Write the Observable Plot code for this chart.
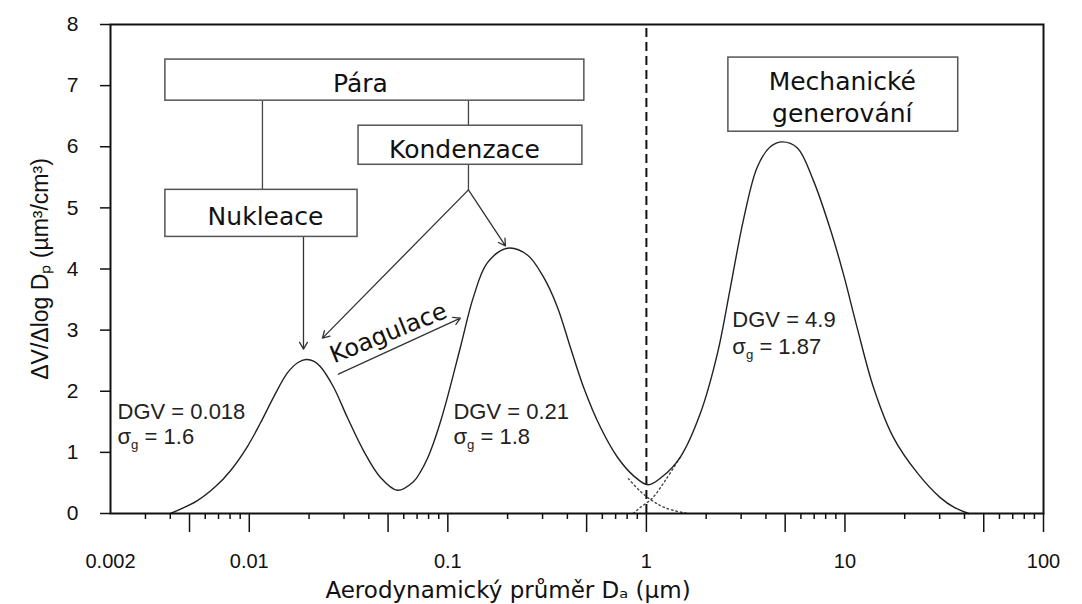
<!DOCTYPE html>
<html><head><meta charset="utf-8">
<script src="https://cdn.jsdelivr.net/npm/d3@7"></script>
<script src="https://cdn.jsdelivr.net/npm/@observablehq/plot@0.6"></script>
<style>body{margin:0;background:#fff}</style>
</head><body><div id="chart"></div>
<script>
// Total volume distribution
const sizeUm = [0.00401,0.00548,0.00676,0.00804,0.0098,0.01138,0.01324,0.01556,0.0176,0.0193,0.0212,0.02284,0.02655,0.0312,0.0376,0.0458,0.0557,0.0671,0.0728,0.0789,0.0846,0.0918,0.0995,0.1157,0.1345,0.158,0.1995,0.2516,0.303,0.356,0.414,0.482,0.587,0.715,0.860,1.02,1.2,1.48,1.87,2.28,2.65,3.08,3.62,4.21,4.84,5.76,6.93,8.44,9.82,11.5,13.9,17.5,23.2,30.2,35.5,42];
const volume = [0,0.21,0.44,0.70,1.10,1.48,1.90,2.30,2.47,2.52,2.49,2.40,2.07,1.57,1.03,0.59,0.38,0.52,0.68,0.90,1.15,1.50,1.90,2.72,3.54,4.10,4.34,4.23,3.87,3.38,2.72,2.07,1.41,0.92,0.62,0.47,0.60,0.92,1.64,2.62,3.70,4.80,5.67,6.00,6.08,5.98,5.45,4.65,3.92,3.05,2.07,1.25,0.66,0.26,0.10,0];
// Individual mode tails near 1 µm (dotted)
const accumTailSize = [0.812,0.933,1.07,1.25,1.61];
const accumTailVol = [0.57,0.36,0.21,0.09,0];
const coarseTailSize = [0.86,0.933,1.07,1.25,1.48];
const coarseTailVol = [0,0.1,0.25,0.55,0.92];
// Axis ticks
const yTicks = [0,1,2,3,4,5,6,7,8];
const xLabelTicks = [0.002,0.01,0.1,1,10,100];
const xLabelText = ["0.002","0.01","0.1","1","10","100"];
const xLongTicks = [0.005,0.01,0.05,0.1,0.5,1,5,10,50,100];
const xShortTicks = [0.003,0.004,0.006,0.007,0.008,0.009,0.02,0.03,0.04,0.06,0.07,0.08,0.09,0.2,0.3,0.4,0.6,0.7,0.8,0.9,2,3,4,6,7,8,9,20,30,40,60,70,80,90];
// Mode annotations
const dgvText = ["DGV = 0.018","DGV = 0.21","DGV = 4.9"];
const sigmaText = ["σg = 1.6","σg = 1.8","σg = 1.87"];
const annX = [0.00217,0.1067,2.71];
const dgvY = [1.66,1.66,3.16];
const sigmaY = [1.25,1.25,2.72];
// Diagram boxes
const boxLabel = ["Pára","Kondenzace","Nukleace","Mechanické\ngenerování"];
const boxX1 = [0.00378,0.0355,0.00378,2.588];
const boxX2 = [0.487,0.476,0.0351,37.2];
const boxY1 = [6.754,5.705,4.525,6.246];
const boxY2 = [7.426,6.344,5.295,7.459];
const boxTextX = [0.0363,0.1213,0.01207,9.70];
const boxTextY = [7.07,5.98,4.885,6.84];
// Connectors
const linkX1 = [0.01165,0.127,0.127];
const linkY1 = [6.754,6.754,5.705];
const linkX2 = [0.01165,0.127,0.127];
const linkY2 = [5.295,6.344,5.295];
const arrowX1 = [0.127,0.127,0.01875,0.0281];
const arrowY1 = [5.295,5.295,4.525,2.279];
const arrowX2 = [0.02337,0.195,0.01875,0.1157];
const arrowY2 = [2.869,4.377,2.689,3.197];

const curve = sizeUm.map((x,i)=>({x, y: volume[i]}));
const accTail = accumTailSize.map((x,i)=>({x, y: accumTailVol[i]}));
const coaTail = coarseTailSize.map((x,i)=>({x, y: coarseTailVol[i]}));
const ann = dgvText.map((t,i)=>({x: annX[i], y1: dgvY[i], y2: sigmaY[i], t, s: sigmaText[i]}));
const boxes = boxLabel.map((t,i)=>({t, x1: boxX1[i], x2: boxX2[i], y1: boxY1[i], y2: boxY2[i], tx: boxTextX[i], ty: boxTextY[i]}));
const links = linkX1.map((x,i)=>({x1:x, y1: linkY1[i], x2: linkX2[i], y2: linkY2[i]}));
const arrows = arrowX1.map((x,i)=>({x1:x, y1: arrowY1[i], x2: arrowX2[i], y2: arrowY2[i]}));

const sans = "Liberation Sans, Arial, sans-serif";
const dv = "DejaVu Sans, Verdana, sans-serif";

const chart = Plot.plot({
  width: 1082, height: 604,
  marginLeft: 110, marginRight: 39, marginTop: 24, marginBottom: 91,
  style: {fontFamily: sans, background: "#fff", color: "#111"},
  x: {type: "log", domain: [0.002, 100]},
  y: {domain: [0, 8]},
  marks: [
    Plot.axisY({ticks: yTicks, tickSize: 10, tickPadding: 22, fontSize: 21, label: null, strokeWidth: 1.5, tickFormat: d => String(d)}),
    Plot.axisX(xShortTicks, {tickSize: 6, tickFormat: () => "", label: null, strokeWidth: 1.5}),
    Plot.axisX(xLongTicks, {tickSize: 19, tickFormat: () => "", label: null, strokeWidth: 1.5}),
    Plot.axisX(xLabelTicks, {tickSize: 0, tickPadding: 40, fontSize: 20, label: null, tickFormat: d => xLabelText[xLabelTicks.indexOf(d)]}),
    Plot.ruleX([1], {y1: 0, y2: 8, stroke: "#111", strokeWidth: 2, strokeDasharray: "9,5"}),
    Plot.line(accTail, {x: "x", y: "y", stroke: "#444", strokeWidth: 1.4, strokeDasharray: "1.5,3", curve: "catmull-rom"}),
    Plot.line(coaTail, {x: "x", y: "y", stroke: "#444", strokeWidth: 1.4, strokeDasharray: "1.5,3", curve: "catmull-rom"}),
    Plot.line(curve, {x: "x", y: "y", stroke: "#222", strokeWidth: 1.4, curve: "catmull-rom"}),
    Plot.link(links, {x1: "x1", y1: "y1", x2: "x2", y2: "y2", stroke: "#444", strokeWidth: 1.3}),
    Plot.arrow(arrows, {x1: "x1", y1: "y1", x2: "x2", y2: "y2", stroke: "#333", strokeWidth: 1.3, headLength: 9, bend: 0}),
    Plot.rect(boxes, {x1: "x1", x2: "x2", y1: "y1", y2: "y2", fill: "#fff", stroke: "#555", strokeWidth: 1.5}),
    Plot.text(boxes, {x: "tx", y: "ty", text: "t", fontFamily: dv, fontSize: 25, fill: "#111", lineHeight: 1.28}),
    Plot.text(["Koagulace"], {x: [0.0502], y: [2.951], text: d => d, rotate: -22, fontFamily: dv, fontSize: 24, fill: "#111"}),
    Plot.text(ann, {x: "x", y: "y1", text: "t", textAnchor: "start", fontSize: 22, fill: "#222"}),
    Plot.text(ann, {x: "x", y: "y2", text: "s", textAnchor: "start", fontSize: 22, fill: "#222"}),
    Plot.text(["ΔV/Δlog Dₚ (µm³/cm³)"], {frameAnchor: "left", textAnchor: "middle", lineAnchor: "middle", dx: -70, rotate: -90, fontSize: 23, fill: "#111", text: d => d}),
    Plot.text(["Aerodynamický průměr Dₐ (µm)"], {frameAnchor: "bottom", lineAnchor: "middle", dx: -69, dy: 77, fontFamily: dv, fontSize: 23, fill: "#111", text: d => d}),
    Plot.frame({stroke: "#111", strokeWidth: 2})
  ]
});

// subscript g in σg
d3.select(chart).selectAll("text").each(function() {
  const t = this.textContent;
  if (t.startsWith("σg")) {
    const el = d3.select(this);
    el.text("");
    el.append("tspan").text("σ");
    el.append("tspan").attr("dy", "0.35em").attr("font-size", "0.6em").text("g");
    el.append("tspan").attr("dy", "-0.21em").text(t.slice(2));
  }
});
document.getElementById("chart").appendChild(chart);
</script>
</body></html>
